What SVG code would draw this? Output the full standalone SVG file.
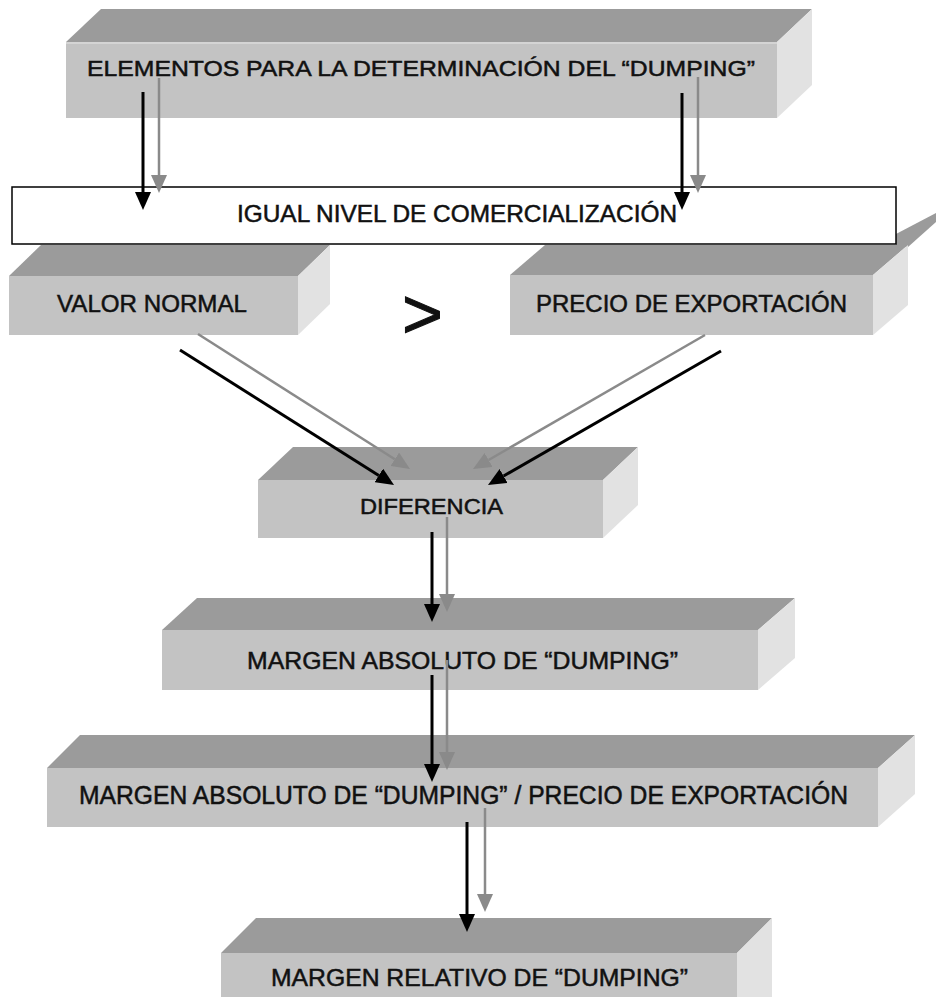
<svg xmlns="http://www.w3.org/2000/svg" width="936" height="997" viewBox="0 0 936 997">
<style>
.front{fill:#c3c3c3}
.top{fill:#9b9b9b}
.side{fill:#e2e2e2}
.hl{stroke:#d4d4d4;stroke-width:2}
.t{font-family:"Liberation Sans",Arial,sans-serif;fill:#111;stroke:#111;stroke-width:0.5}
.bk{stroke:#000;stroke-width:3;fill:none}
.gr{stroke:#8a8a8a;stroke-width:2.5;fill:none}
</style>
<defs>
<marker id="hb" markerUnits="userSpaceOnUse" viewBox="0 0 18 16" markerWidth="18" markerHeight="16" refX="0" refY="8" orient="auto"><path d="M0,0 L18,8 L0,16 Z" fill="#000"/></marker>
<marker id="hg" markerUnits="userSpaceOnUse" viewBox="0 0 18 16" markerWidth="18" markerHeight="16" refX="0" refY="8" orient="auto"><path d="M0,0 L18,8 L0,16 Z" fill="#8a8a8a"/></marker>
</defs>
<rect width="936" height="997" fill="#fff"/>

<g id="n1">
<polygon class="top" points="66,42 101,9 812,9 777,42"/>
<polygon class="side" points="777,42 812,9 812,85 777,118"/>
<rect class="front" x="66" y="42" width="711" height="76"/>
<line class="hl" x1="66" y1="43" x2="777" y2="43"/>
<text class="t" x="87" y="76" style="font-size:22px" textLength="668" lengthAdjust="spacingAndGlyphs">ELEMENTOS PARA LA DETERMINACIÓN DEL “DUMPING”</text>
</g>

<g id="n3">
<polygon class="top" points="9,276 41,245 330,245 298,276"/>
<polygon class="side" points="298,276 330,245 330,304 298,335"/>
<rect class="front" x="9" y="276" width="289" height="59"/>
<text class="t" x="57" y="312" style="font-size:24px" textLength="190" lengthAdjust="spacingAndGlyphs">VALOR NORMAL</text>
</g>

<g id="n4">
<polygon class="top" points="510,275 545,245 908,245 873,275"/>
<polygon class="top" points="896,234 936,213 936,222 908,247 896,247"/>
<polygon class="side" points="873,275 908,245 908,305 873,335"/>
<rect class="front" x="510" y="275" width="363" height="60"/>
<text class="t" x="536" y="312" style="font-size:24px" textLength="311" lengthAdjust="spacingAndGlyphs">PRECIO DE EXPORTACIÓN</text>
</g>

<g id="n2">
<rect x="12" y="187" width="884" height="57" fill="#fff" stroke="#000" stroke-width="1.5"/>
<text class="t" x="237" y="222" style="font-size:24px" textLength="440" lengthAdjust="spacingAndGlyphs">IGUAL NIVEL DE COMERCIALIZACIÓN</text>
</g>

<g id="gt">
<text class="t" x="402" y="338" style="font-size:70px;stroke-width:1">&gt;</text>
</g>

<g id="n5">
<polygon class="top" points="258,480 293,447 638,447 603,480"/>
<polygon class="side" points="603,480 638,447 638,505 603,538"/>
<rect class="front" x="258" y="480" width="345" height="58"/>
<text class="t" x="360" y="514" style="font-size:22px" textLength="143" lengthAdjust="spacingAndGlyphs">DIFERENCIA</text>
</g>

<g id="n6">
<polygon class="top" points="162,630 197,598 795,598 758,630"/>
<polygon class="side" points="758,630 795,598 795,658 758,690"/>
<rect class="front" x="162" y="630" width="596" height="60"/>
<text class="t" x="247" y="669" style="font-size:24px" textLength="431" lengthAdjust="spacingAndGlyphs">MARGEN ABSOLUTO DE “DUMPING”</text>
</g>

<g id="n7">
<polygon class="top" points="47,768 80,735 915,735 878,768"/>
<polygon class="side" points="878,768 915,735 915,794 878,827"/>
<rect class="front" x="47" y="768" width="831" height="59"/>
<text class="t" x="79" y="804" style="font-size:25px" textLength="769" lengthAdjust="spacingAndGlyphs">MARGEN ABSOLUTO DE “DUMPING” / PRECIO DE EXPORTACIÓN</text>
</g>

<g id="n8">
<polygon class="top" points="221,953 256,918 772,918 737,953"/>
<polygon class="side" points="737,953 772,918 772,997 737,997"/>
<rect class="front" x="221" y="953" width="516" height="50"/>
<text class="t" x="271" y="986" style="font-size:24px" textLength="417" lengthAdjust="spacingAndGlyphs">MARGEN RELATIVO DE “DUMPING”</text>
</g>

<g id="connectors">
<line class="bk" x1="143" y1="92" x2="143" y2="192" marker-end="url(#hb)"/>
<line class="gr" x1="159" y1="78" x2="159" y2="175" marker-end="url(#hg)"/>
<line class="bk" x1="682" y1="93" x2="682" y2="192" marker-end="url(#hb)"/>
<line class="gr" x1="698" y1="77" x2="698" y2="175" marker-end="url(#hg)"/>
<line class="bk" x1="180" y1="350" x2="378.8" y2="475.4" marker-end="url(#hb)"/>
<line class="gr" x1="198" y1="334" x2="394.8" y2="459.3" marker-end="url(#hg)"/>
<line class="gr" x1="705" y1="335" x2="488.6" y2="460" marker-end="url(#hg)"/>
<line class="bk" x1="721" y1="351" x2="503.6" y2="476" marker-end="url(#hb)"/>
<line class="bk" x1="432" y1="532" x2="432" y2="604" stroke-width="2" marker-end="url(#hb)"/>
<line class="gr" x1="447" y1="517" x2="447" y2="594" marker-end="url(#hg)"/>
<line class="bk" x1="432" y1="675" x2="432" y2="764" stroke-width="2" marker-end="url(#hb)"/>
<line class="gr" x1="447" y1="660" x2="447" y2="752" marker-end="url(#hg)"/>
<line class="bk" x1="467" y1="822" x2="467" y2="914" stroke-width="4" marker-end="url(#hb)"/>
<line class="gr" x1="485" y1="808" x2="485" y2="894" stroke-width="3" marker-end="url(#hg)"/>
</g>
</svg>
